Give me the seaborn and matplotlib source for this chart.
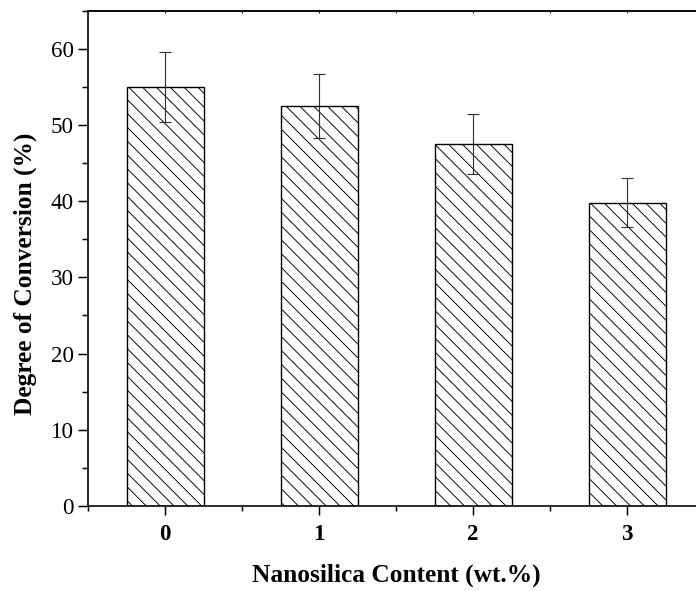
import matplotlib
matplotlib.use("Agg")
import matplotlib.pyplot as plt
from matplotlib.ticker import MultipleLocator
import seaborn as sns
import pandas as pd

# Degree of conversion vs. nanosilica loading
content = ["0", "1", "2", "3"]
conversion = [55.0, 52.5, 47.5, 39.8]
conversion_sd = [4.6, 4.2, 3.9, 3.2]

sns.set_theme(style="ticks")
plt.rcParams["font.family"] = ["Liberation Serif", "DejaVu Serif"]
plt.rcParams["hatch.linewidth"] = 0.8
plt.rcParams["hatch.color"] = "black"
plt.rcParams["text.color"] = "black"
plt.rcParams["axes.labelcolor"] = "black"

DPI = 83
fig = plt.figure(figsize=(696 / DPI, 591 / DPI), dpi=DPI)
ax = fig.add_axes([88 / 696, 85 / 591, 616 / 696, 495.3 / 591])

df = pd.DataFrame({"content": content, "conversion": conversion})
sns.barplot(data=df, x="content", y="conversion", order=content, width=0.5,
            color="white", edgecolor="black", linewidth=1.2, errorbar=None,
            ax=ax)
for p in ax.patches:
    p.set_facecolor("white")
    p.set_hatch("\\\\")

ax.errorbar(range(len(content)), conversion, yerr=conversion_sd, fmt="none",
            ecolor="#333333", elinewidth=1.0, capsize=5, capthick=1.0, zorder=5)

ax.set_xlim(-0.5, 3.5)
ax.set_ylim(0, 65)
ax.yaxis.set_major_locator(MultipleLocator(10))
ax.yaxis.set_minor_locator(MultipleLocator(5))
ax.xaxis.set_minor_locator(MultipleLocator(0.5))

for s in ax.spines.values():
    s.set_visible(True)
    s.set_color("black")
    s.set_linewidth(1.4)

ax.tick_params(axis="both", which="major", direction="out", width=1.3,
               colors="black", labelcolor="black", labelsize=20)
ax.tick_params(axis="y", which="major", length=8.5, pad=4)
ax.tick_params(axis="y", which="minor", direction="out", length=5, width=1.3, colors="black")
ax.tick_params(axis="x", which="major", length=7.5, pad=8)
ax.tick_params(axis="x", which="minor", direction="out", length=4.5, width=1.3, colors="black")
for lbl in ax.get_xticklabels():
    lbl.set_fontweight("bold")

top = ax.secondary_xaxis("top")
top.set_xticks([0, 1, 2, 3], labels=[])
top.xaxis.set_minor_locator(MultipleLocator(0.5))
top.tick_params(which="both", direction="in", length=2, width=0.8, colors="black")
top.spines["top"].set_linewidth(1.4)

ax.set_xlabel("Nanosilica Content (wt.%)", fontsize=22, fontweight="bold", labelpad=16)
ax.set_ylabel("Degree of Conversion (%)", fontsize=22, fontweight="bold", labelpad=12)
ax.yaxis.label.set_y(0.468)

fig.savefig("out.png", dpi=DPI)
